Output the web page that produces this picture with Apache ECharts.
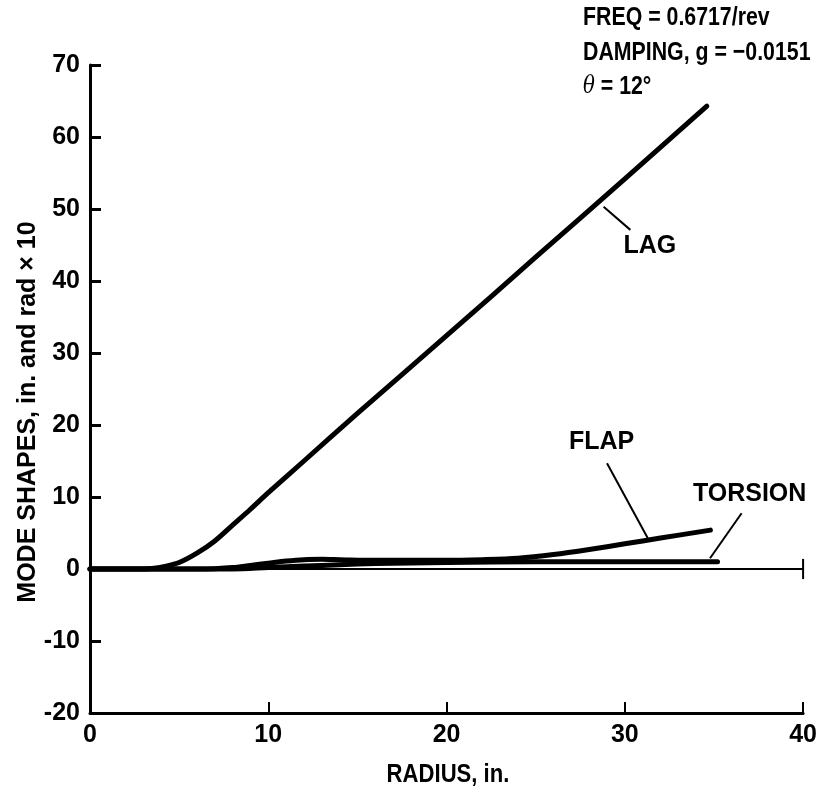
<!DOCTYPE html>
<html><head><meta charset="utf-8">
<script src="https://cdn.jsdelivr.net/npm/echarts@6/dist/echarts.min.js"></script>
<style>html,body{margin:0;padding:0;background:#fff}#c{width:820px;height:792px}</style>
</head><body><div id="c"></div><script>
// ---- data ----
const xMin = 0, xMax = 40, xStep = 10;
const yMin = -20, yMax = 70, yStep = 10;

const lagX = [0, 3, 3.6, 4.2, 5, 6, 7, 8, 9, 10, 12, 15, 20, 25, 30, 34.6];
const lagY = [0, 0, 0.1, 0.35, 0.9, 2.2, 3.9, 6.1, 8.3, 10.6, 15.0, 21.6, 32.4, 43.3, 54.2, 64.3];

const flapX = [0, 6, 7, 8, 9, 10, 11, 12, 13, 14, 16, 18, 20, 22, 24, 26, 28, 30, 32, 34.8];
const flapY = [0, 0, 0.05, 0.2, 0.5, 0.8, 1.1, 1.3, 1.35, 1.3, 1.2, 1.2, 1.2, 1.3, 1.5, 2.0, 2.7, 3.5, 4.3, 5.4];

const torsionX = [0, 8, 10, 12, 14, 16, 18, 20, 25, 30, 35.2];
const torsionY = [0, 0, 0.2, 0.4, 0.6, 0.75, 0.85, 0.9, 1.0, 1.0, 1.0];

const zeroLineX = [0, 40];
const endTickY = [-1.4, 1.4];

// callouts: label text, label anchor, leader start, leader end (data units)
const calloutNames = ['LAG', 'FLAP', 'TORSION'];
const calloutLabelX = [31.4, 28.7, 37.0];
const calloutLabelY = [44.9, 17.6, 10.4];
const leaderFromX = [30.31, 29.0, 36.55];
const leaderFromY = [47.1, 14.7, 7.74];
const leaderToX = [28.81, 31.29, 34.78];
const leaderToY = [50.3, 4.26, 1.49];

const infoLines = ['FREQ = 0.6717/rev', 'DAMPING, g = \u22120.0151', '{i|\u03b8} = 12\u00b0'];

const xName = 'RADIUS, in.';
const yName = 'MODE SHAPES, in. and rad \u00d7 10';

// ---- chart ----
const zip = (xs, ys) => xs.map((x, i) => [x, ys[i]]);
const chart = echarts.init(document.getElementById('c'), null, {renderer: 'canvas'});

const curve = (name, xs, ys) => ({
  name, type: 'line', data: zip(xs, ys), showSymbol: false, symbol: 'none',
  smooth: 0.3, lineStyle: {color: '#000', width: 5, cap: 'round', join: 'round'}, z: 5
});

const series = [
  {type: 'line', data: zip(zeroLineX, [0, 0]), symbol: 'none', lineStyle: {color: '#000', width: 2}, z: 3},
  {type: 'line', data: zip([xMax, xMax], endTickY), symbol: 'none', lineStyle: {color: '#000', width: 2}, z: 3},
  curve('LAG', lagX, lagY),
  curve('FLAP', flapX, flapY),
  curve('TORSION', torsionX, torsionY)
];
calloutNames.forEach((n, i) => {
  series.push({type: 'line', data: [[leaderFromX[i], leaderFromY[i]], [leaderToX[i], leaderToY[i]]],
    symbol: 'none', lineStyle: {color: '#000', width: 2}, z: 4});
});

const font = 'Liberation Sans';

chart.setOption({
  animation: false,
  backgroundColor: '#fff',
  grid: {left: 90, right: 15, top: 65, bottom: 79, containLabel: false},
  xAxis: {
    type: 'value', min: xMin, max: xMax, interval: xStep,
    axisLine: {show: true, onZero: false, lineStyle: {color: '#000', width: 3}},
    axisTick: {show: true, inside: true, length: 11, lineStyle: {color: '#000', width: 2}},
    axisLabel: {fontFamily: font, fontWeight: 'bold', fontSize: 25, color: '#000', margin: 10},
    splitLine: {show: false}
  },
  yAxis: {
    type: 'value', min: yMin, max: yMax, interval: yStep,
    axisLine: {show: true, onZero: false, lineStyle: {color: '#000', width: 3}},
    axisTick: {show: true, inside: true, length: 11, lineStyle: {color: '#000', width: 3}},
    axisLabel: {fontFamily: font, fontWeight: 'bold', fontSize: 25, color: '#000', margin: 10},
    splitLine: {show: false}
  },
  series
});

const g = [];
infoLines.forEach((t, i) => {
  g.push({type: 'text', x: 583, y: 18 + i * 34.5, scaleX: 0.82, style: {
    text: t, fontFamily: font, fontWeight: 'bold', fontSize: 26, fill: '#000', verticalAlign: 'middle',
    rich: {i: {fontFamily: 'DejaVu Serif', fontStyle: 'italic', fontSize: 24, fill: '#000', verticalAlign: 'middle'}}
  }});
});
calloutNames.forEach((n, i) => {
  const p = chart.convertToPixel({gridIndex: 0}, [calloutLabelX[i], calloutLabelY[i]]);
  g.push({type: 'text', x: p[0], y: p[1], style: {
    text: n, fontFamily: font, fontWeight: 'bold', fontSize: 25, fill: '#000',
    align: 'center', verticalAlign: 'middle'
  }});
});
// axis titles
g.push({type: 'text', x: 448, y: 775, scaleX: 0.85, style: {
  text: xName, fontFamily: font, fontWeight: 'bold', fontSize: 26, fill: '#000', align: 'center', verticalAlign: 'middle'
}});
g.push({type: 'text', x: 28, y: 412, rotation: Math.PI / 2, style: {
  text: yName, fontFamily: font, fontWeight: 'bold', fontSize: 25, fill: '#000', align: 'center', verticalAlign: 'middle'
}});
chart.setOption({graphic: g});
</script></body></html>
